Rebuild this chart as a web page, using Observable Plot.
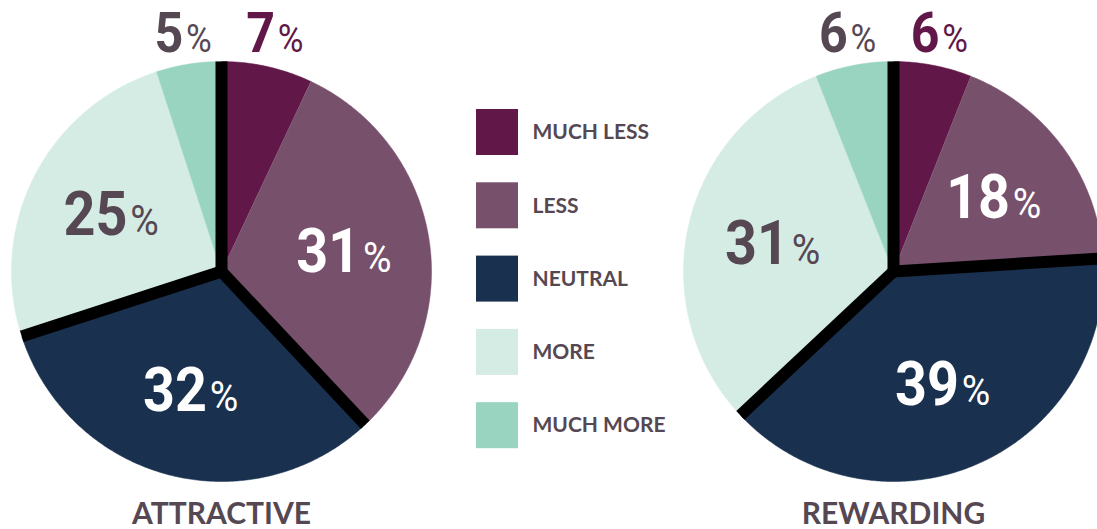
<!DOCTYPE html>
<html><head><meta charset="utf-8">
<script src="https://cdn.jsdelivr.net/npm/d3@7"></script>
<script src="https://cdn.jsdelivr.net/npm/@observablehq/plot@0.6"></script>
<style>
html,body{margin:0;padding:0;background:#fff;overflow:hidden}
</style></head><body><div id="chart"></div>
<script>
// ---- data ----
const categories = ["MUCH LESS", "LESS", "NEUTRAL", "MORE", "MUCH MORE"];
const pieNames = ["ATTRACTIVE", "REWARDING"];
const attractiveValues = [7, 31, 32, 25, 5];
const rewardingValues = [6, 18, 39, 31, 6];
const sliceColors = ["#611849", "#77506b", "#19304f", "#d5ece4", "#98d4bf"];
const labelColors = ["#611849", "#ffffff", "#ffffff", "#564852", "#564852"];
const outsideLabel = ["MUCH LESS", "MUCH MORE"];
const groupStarts = ["MUCH LESS", "NEUTRAL", "MORE"]; // black separators

// ---- layout ----
const W = 1097, H = 529, R = 210;
const centers = [[221, 271], [893, 271]];
const seriesValues = [attractiveValues, rewardingValues];
const textGray = "#564852";

const wedgePts = [], seps = [], pctIn = [], pctOut = [], titles = [];
pieNames.forEach((name, p) => {
  const vals = seriesValues[p];
  const total = d3.sum(vals);
  const [cx, cy] = centers[p];
  let cum = 0;
  vals.forEach((v, i) => {
    const a0 = cum / total * 2 * Math.PI, a1 = (cum + v) / total * 2 * Math.PI;
    const key = name + "-" + i, cat = categories[i];
    wedgePts.push({key, cat, x: cx, y: cy});
    const n = Math.max(2, Math.ceil((a1 - a0) / (Math.PI / 360)));
    for (let k = 0; k <= n; k++) {
      const a = a0 + (a1 - a0) * k / n;
      wedgePts.push({key, cat, x: cx + R * Math.sin(a), y: cy - R * Math.cos(a)});
    }
    if (groupStarts.includes(cat)) {
      seps.push({x1: cx, y1: cy, x2: cx + R * Math.sin(a0), y2: cy - R * Math.cos(a0)});
    }
    const am = (a0 + a1) / 2;
    if (outsideLabel.includes(cat)) {
      pctOut.push({x: cx + 1.167 * R * Math.sin(am), y: cy - R - 27, text: v + "%", color: labelColors[i]});
    } else {
      pctIn.push({x: cx + 0.59 * R * Math.sin(am), y: cy - 0.59 * R * Math.cos(am), text: v + "%", color: labelColors[i]});
    }
    cum += v;
  });
  titles.push({x: cx, y: cy + R + 33, text: name});
});

const legend = categories.map((c, i) => ({cat: c, y: 132 + i * 73.3}));
const pctFont = "Roboto, 'Open Sans', sans-serif";

const plot = Plot.plot({
  width: W, height: H, margin: 0,
  x: {type: "identity", axis: null},
  y: {type: "identity", axis: null},
  color: {domain: categories, range: sliceColors},
  style: {background: "#fff"},
  marks: [
    Plot.line(wedgePts, {x: "x", y: "y", z: "key", fill: "cat", stroke: "cat", strokeWidth: 0.5, curve: "linear"}),
    Plot.link(seps, {x1: "x1", y1: "y1", x2: "x2", y2: "y2", stroke: "#000", strokeWidth: 12}),
    Plot.dot(centers.map(([x, y]) => ({x, y})), {x: "x", y: "y", r: 6, fill: "#000"}),
    Plot.text(pctIn, {x: "x", y: "y", text: "text", fill: "color", fontSize: 61, fontWeight: "bold",
      fontFamily: pctFont, textAnchor: "middle", lineAnchor: "middle"}),
    Plot.text(pctOut, {x: "x", y: "y", text: "text", fill: "color", fontSize: 56, fontWeight: "bold",
      fontFamily: pctFont, textAnchor: "middle", lineAnchor: "middle"}),
    Plot.rect(legend, {x1: () => 476, x2: () => 518, y1: d => d.y - 23, y2: d => d.y + 23, fill: "cat"}),
    Plot.text(legend, {x: () => 532, y: "y", text: "cat", fill: textGray, fontSize: 21, fontWeight: "bold",
      fontFamily: "Lato, 'Noto Sans', sans-serif", textAnchor: "start", lineAnchor: "middle"}),
    Plot.text(titles, {x: "x", y: "y", text: "text", fill: textGray, fontSize: 30, fontWeight: "bold",
      fontFamily: "Lato, 'Noto Sans', sans-serif", textAnchor: "middle", lineAnchor: "middle"})
  ]
});

// percentage labels: smaller, lighter "%" sign
const pctTexts = d3.select(plot).selectAll("text").filter(function () {
  return /^\d+%$/.test(this.textContent);
});
pctTexts.each(function () {
  const t = this.textContent;
  const sel = d3.select(this);
  sel.text(t.replace("%", ""));
  sel.append("tspan").attr("font-size", "0.7em").attr("font-weight", "normal").attr("dx", "3").text("%");
});

document.getElementById("chart").appendChild(plot);

// condense the percentage labels horizontally
pctTexts.each(function () {
  const len = this.getComputedTextLength();
  if (len > 0) {
    this.setAttribute("textLength", (len * 0.94).toFixed(1));
    this.setAttribute("lengthAdjust", "spacingAndGlyphs");
  }
});
</script></body></html>
